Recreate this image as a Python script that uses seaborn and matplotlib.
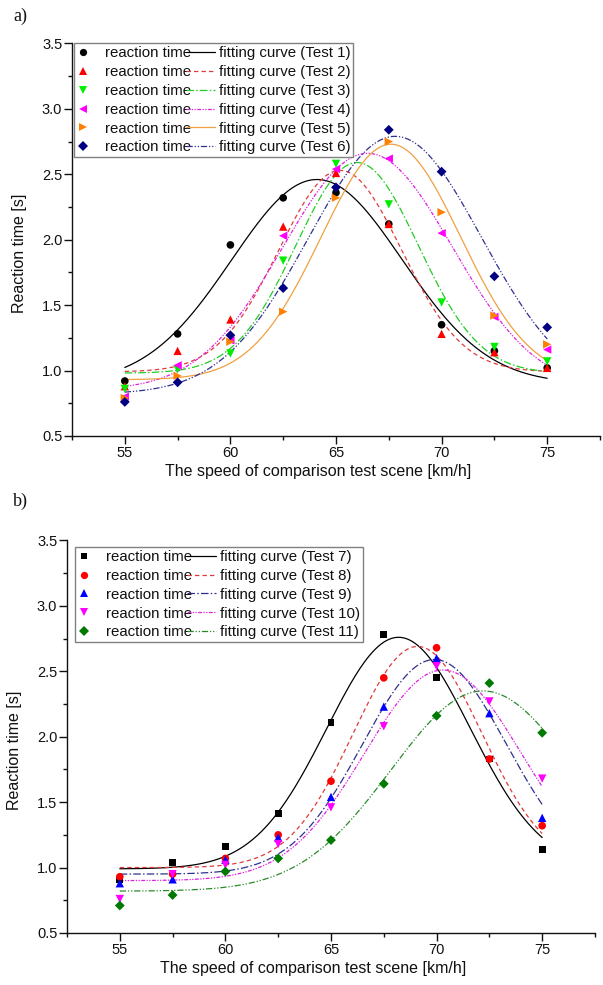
import numpy as np
import pandas as pd
import matplotlib
matplotlib.use("Agg")
import matplotlib.pyplot as plt
import seaborn as sns
from matplotlib.lines import Line2D
from matplotlib.legend_handler import HandlerLine2D
from matplotlib.ticker import MultipleLocator, FormatStrFormatter

# speeds of the comparison test scene [km/h]
speed = [55, 57.5, 60, 62.5, 65, 67.5, 70, 72.5, 75]

# panel a) measured reaction times [s]
tests_a = ["Test 1", "Test 2", "Test 3", "Test 4", "Test 5", "Test 6"]
rt_test1 = [0.92, 1.28, 1.96, 2.32, 2.36, 2.12, 1.35, 1.15, 1.02]
rt_test2 = [0.88, 1.15, 1.39, 2.10, 2.51, 2.12, 1.28, 1.14, 1.02]
rt_test3 = [0.86, 1.01, 1.13, 1.84, 2.58, 2.27, 1.52, 1.18, 1.07]
rt_test4 = [0.80, 1.04, 1.23, 2.03, 2.54, 2.62, 2.05, 1.41, 1.16]
rt_test5 = [0.79, 0.96, 1.22, 1.45, 2.32, 2.75, 2.21, 1.42, 1.20]
rt_test6 = [0.76, 0.91, 1.27, 1.63, 2.40, 2.84, 2.52, 1.72, 1.33]

# gaussian fit parameters (a)
fit_y0_a = [0.90, 0.99, 0.98, 0.85, 0.93, 0.82]
fit_amp_a = [1.56, 1.54, 1.61, 1.81, 1.80, 1.97]
fit_xc_a = [64.1, 65.2, 66.0, 66.5, 67.6, 67.8]
fit_w_a = [4.04, 2.9, 2.9, 4.0, 3.3, 4.1]

# panel b) measured reaction times [s]
tests_b = ["Test 7", "Test 8", "Test 9", "Test 10", "Test 11"]
rt_test7 = [0.91, 1.04, 1.16, 1.41, 2.11, 2.78, 2.45, 1.83, 1.14]
rt_test8 = [0.93, 0.95, 1.07, 1.25, 1.66, 2.45, 2.68, 1.83, 1.32]
rt_test9 = [0.88, 0.91, 1.06, 1.23, 1.54, 2.23, 2.60, 2.18, 1.38]
rt_test10 = [0.76, 0.95, 1.02, 1.18, 1.46, 2.08, 2.54, 2.27, 1.68]
rt_test11 = [0.71, 0.79, 0.97, 1.07, 1.21, 1.64, 2.16, 2.41, 2.03]

# gaussian fit parameters (b)
fit_y0_b = [0.99, 1.00, 0.95, 0.90, 0.82]
fit_amp_b = [1.77, 1.69, 1.64, 1.61, 1.53]
fit_xc_b = [68.2, 69.1, 69.9, 70.3, 72.2]
fit_w_b = [3.4, 3.05, 3.4, 3.7, 4.35]

# styles
markers_a = ["o", "^", "v", "<", ">", "D"]
msize_a = [5.5, 6, 6, 6, 6, 5]
mcol_a = ["#000000", "#ff0000", "#00ee00", "#ff00ff", "#ff8000", "#000080"]
lcol_a = ["#000000", "#e03a3a", "#22cc22", "#e020e0", "#f0a040", "#303090"]
dash_a = ["", (3.5, 2.5), (6, 1.8, 1.2, 1.8), (3, 1.2, 1, 1.2, 1, 1.2), "", (5, 1.5, 1, 1.5, 1, 1.5)]

markers_b = ["s", "o", "^", "v", "D"]
msize_b = [5, 5.5, 6, 6, 5]
mcol_b = ["#000000", "#ff0000", "#0000ff", "#ff00ff", "#007a00"]
lcol_b = ["#000000", "#e03a3a", "#303090", "#e020e0", "#2a8a2a"]
dash_b = ["", (3.5, 2.5), (6, 1.8, 1.2, 1.8), (3, 1.2, 1, 1.2, 1, 1.2), (5, 1.5, 1, 1.5, 1, 1.5)]


class MarkerLeft(HandlerLine2D):
    # put the marker near the left end of its handle box
    def get_xdata(self, legend, xdescent, ydescent, width, height, fontsize):
        return [-xdescent, -xdescent + 0.5 * width], [-xdescent + 0.25 * width]


class LineExt(HandlerLine2D):
    # let the line reach back to the end of "reaction time"
    def get_xdata(self, legend, xdescent, ydescent, width, height, fontsize):
        ext = 0.35 * fontsize
        return [-xdescent - ext, -xdescent + width], [-xdescent + 0.5 * width]


def plotPanel(ax, tests, rts, y0, amp, xc, w, markers, msize, mcol, lcol, dashes, leg_anchor):
    pts = pd.DataFrame({
        "speed": np.tile(speed, len(tests)),
        "rt": np.concatenate(rts),
        "test": np.repeat(tests, len(speed)),
    })
    xs = np.linspace(min(speed), max(speed), 300)
    curves = pd.concat([
        pd.DataFrame({"speed": xs,
                      "rt": y0[i] + amp[i] * np.exp(-(xs - xc[i]) ** 2 / (2 * w[i] ** 2)),
                      "test": t})
        for i, t in enumerate(tests)
    ])

    sns.lineplot(data=curves, x="speed", y="rt", hue="test", style="test",
                 palette=dict(zip(tests, lcol)), dashes=dict(zip(tests, dashes)),
                 estimator=None, linewidth=0.9, legend=False, ax=ax)
    sns.scatterplot(data=pts, x="speed", y="rt", hue="test", style="test", size="test",
                    palette=dict(zip(tests, mcol)), markers=dict(zip(tests, markers)),
                    sizes={t: s ** 2 for t, s in zip(tests, msize)},
                    linewidth=0, legend=False, ax=ax, zorder=3)

    ax.set_xlim(52.5, 77.5)
    ax.set_ylim(0.5, 3.5)
    ax.xaxis.set_major_locator(MultipleLocator(5))
    ax.xaxis.set_minor_locator(MultipleLocator(2.5))
    ax.yaxis.set_major_locator(MultipleLocator(0.5))
    ax.yaxis.set_minor_locator(MultipleLocator(0.25))
    ax.yaxis.set_major_formatter(FormatStrFormatter("%.1f"))
    ax.tick_params(which="major", direction="out", length=5.5, width=1, pad=1.5,
                   labelsize=10.5, colors="#111111")
    ax.tick_params(which="minor", direction="out", length=3, width=1, colors="#111111")
    for s in ["left", "bottom"]:
        ax.spines[s].set_linewidth(1.0)
        ax.spines[s].set_color("#111111")
    sns.despine(ax=ax)

    ax.set_xlabel("The speed of comparison test scene [km/h]", fontsize=11.5)
    ax.set_ylabel("Reaction time [s]", fontsize=11.5)
    ax.xaxis.set_label_coords(0.466, -0.072)
    ax.yaxis.set_label_coords(-0.085, 0.466)

    # legend: marker + "reaction time", line + "fitting curve (Test n)"
    mh = [Line2D([], [], ls="none", marker=m, ms=s * 0.95, color=c, mew=0)
          for m, s, c in zip(markers, msize, mcol)]
    lh = []
    for c, d in zip(lcol, dashes):
        ln = Line2D([], [], color=c, lw=0.9)
        if d:
            ln.set_dashes(d)
        lh.append(ln)
    hmap = {h: MarkerLeft() for h in mh}
    hmap.update({h: LineExt() for h in lh})
    leg = ax.legend(mh + lh, ["reaction time"] * len(tests) + [f"fitting curve ({t})" for t in tests],
                    ncol=2, loc="upper left", bbox_to_anchor=leg_anchor, borderaxespad=0,
                    handlelength=1.6, handletextpad=0.25, columnspacing=0, labelspacing=0.32,
                    borderpad=0.2, fontsize=10.8, frameon=True, fancybox=False,
                    framealpha=1, edgecolor="#808080", handler_map=hmap)
    leg.get_frame().set_linewidth(1.0)


sns.set_theme(style="ticks")
plt.rcParams["font.family"] = ["Liberation Sans", "DejaVu Sans"]
plt.rcParams["text.color"] = "#111111"
plt.rcParams["axes.labelcolor"] = "#111111"

fig = plt.figure(figsize=(6.03, 9.85), dpi=100)
ax_a = fig.add_axes([0.1194, 0.5574, 0.8756, 0.3985])
ax_b = fig.add_axes([0.1111, 0.0528, 0.8756, 0.3985])

plotPanel(ax_a, tests_a, [rt_test1, rt_test2, rt_test3, rt_test4, rt_test5, rt_test6],
          fit_y0_a, fit_amp_a, fit_xc_a, fit_w_a, markers_a, msize_a, mcol_a, lcol_a, dash_a,
          (0.004, 1.0))
plotPanel(ax_b, tests_b, [rt_test7, rt_test8, rt_test9, rt_test10, rt_test11],
          fit_y0_b, fit_amp_b, fit_xc_b, fit_w_b, markers_b, msize_b, mcol_b, lcol_b, dash_b,
          (0.015, 0.983))

fig.text(0.0216, 0.992, "a)", family="Liberation Serif", fontsize=13, va="top", ha="left")
fig.text(0.0216, 0.500, "b)", family="Liberation Serif", fontsize=13, va="top", ha="left")

fig.savefig("out.png", dpi=100, facecolor="white")
